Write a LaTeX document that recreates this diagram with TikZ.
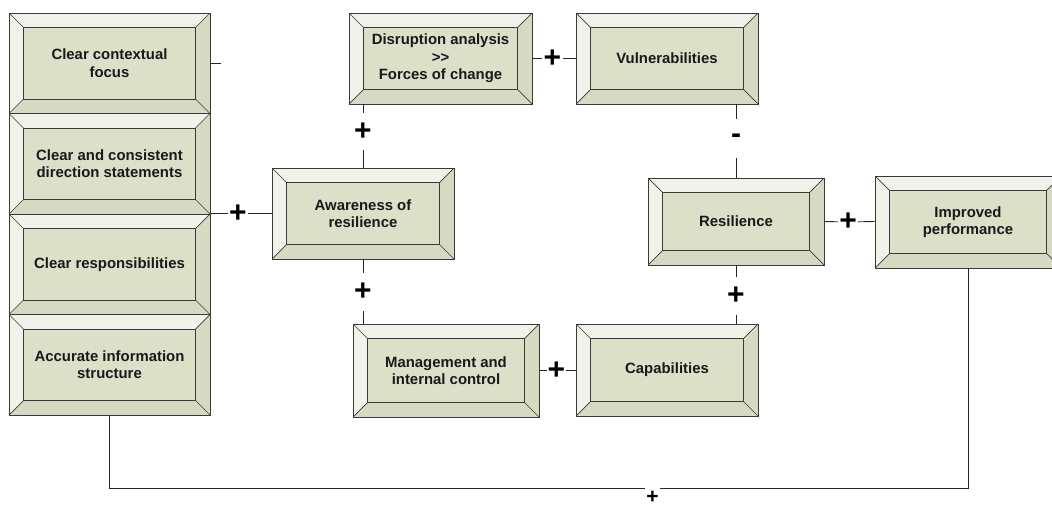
\documentclass[tikz,border=0pt]{standalone}
\usepackage{fontspec}
\setmainfont{Liberation Sans}
\usetikzlibrary{calc}

\definecolor{bevlight}{HTML}{F1F2EA}
\definecolor{bevdark}{HTML}{D6DAC3}
\definecolor{bevface}{HTML}{DCE0C9}
\definecolor{edgecol}{HTML}{3A3A3A}

\newcommand{\bevw}{14.5pt}

\tikzset{
  bevelbox/.style={draw=edgecol, line width=0.9pt, inner sep=0pt, align=center,
    font=\fontsize{14.9}{17.5}\selectfont\bfseries, text=black!90,
    path picture={
      \path (path picture bounding box.north west) coordinate (oNW)
            (path picture bounding box.north east) coordinate (oNE)
            (path picture bounding box.south east) coordinate (oSE)
            (path picture bounding box.south west) coordinate (oSW);
      \path ($(oNW)+(\bevw,-\bevw)$) coordinate (iNW)
            ($(oNE)+(-\bevw,-\bevw)$) coordinate (iNE)
            ($(oSE)+(-\bevw,\bevw)$) coordinate (iSE)
            ($(oSW)+(\bevw,\bevw)$) coordinate (iSW);
      % light top and left faces, darker bottom and right faces
      \fill[bevlight] (oNW) -- (oNE) -- (iNE) -- (iNW) -- cycle;
      \fill[bevlight] (oNW) -- (iNW) -- (iSW) -- (oSW) -- cycle;
      \fill[bevdark] (oSW) -- (iSW) -- (iSE) -- (oSE) -- cycle;
      \fill[bevdark] (oNE) -- (oSE) -- (iSE) -- (iNE) -- cycle;
      \draw[edgecol, line width=0.7pt] (oNW) -- (iNW) (oNE) -- (iNE)
            (oSE) -- (iSE) (oSW) -- (iSW);
      \draw[edgecol, line width=0.9pt, fill=bevface] (iNW) rectangle (iSE);
    }},
  conn/.style={draw=black!85, line width=0.9pt},
  sign/.style={font=\fontsize{30}{30}\selectfont\bfseries, inner sep=0pt},
  smallsign/.style={font=\fontsize{21}{21}\selectfont\bfseries, inner sep=0pt},
}

\begin{document}
\begin{tikzpicture}[x=1pt, y=-1pt]
\useasboundingbox (0,0) rectangle (1052,506);
\clip (0,0) rectangle (1052,506);

% left column of stacked boxes
\node[bevelbox, minimum width=201pt, minimum height=100.5pt] (ctx) at (109.5,63.25) {Clear contextual\\focus};
\node[bevelbox, minimum width=201pt, minimum height=100.5pt] (dir) at (109.5,163.75) {Clear and consistent\\direction statements};
\node[bevelbox, minimum width=201pt, minimum height=100.5pt] (resp) at (109.5,264.25) {Clear responsibilities};
\node[bevelbox, minimum width=201pt, minimum height=100.5pt] (info) at (109.5,364.75) {Accurate information\\structure};

% central and right boxes
\node[bevelbox, minimum width=182pt, minimum height=91pt] (aware) at (363,213.5) {Awareness of\\resilience};
\node[bevelbox, minimum width=183pt, minimum height=91pt] (disr) at (440.5,58.5) {Disruption analysis\\>{}>\\Forces of change};
\node[bevelbox, minimum width=182pt, minimum height=91pt] (vuln) at (667,58.5) {Vulnerabilities};
\node[bevelbox, minimum width=176pt, minimum height=87pt] (resil) at (736,221.5) {Resilience};
\node[bevelbox, minimum width=186pt, minimum height=92pt] (impr) at (968,222) {Improved\\performance};
\node[bevelbox, minimum width=186pt, minimum height=93pt] (mgmt) at (446,370.5) {Management and\\internal control};
\node[bevelbox, minimum width=182pt, minimum height=92pt] (capab) at (667,370) {Capabilities};

% polarity signs on the links
\node[sign, minimum height=37pt] (s1) at (363,131.5) {+};
\node[sign, minimum height=38pt] (s2) at (363,292) {+};
\node[sign, minimum height=39pt] (s3) at (736,138.5) {-};
\node[sign, minimum height=38pt] (s4) at (736,296) {+};
\node[sign, minimum width=21pt] (s5) at (552.5,58.5) {+};
\node[sign, minimum width=19pt] (s6) at (556.5,370.5) {+};
\node[sign, minimum width=20pt] (s7) at (848,222) {+};
\node[sign, minimum width=19pt] (s8) at (238,213.5) {+};
\node[smallsign] (s9) at (652.5,497) {+};

% links
\coordinate (ctxstub) at ($(ctx.east)+(11pt,0)$);
\draw[conn] (ctx.east) -- (ctxstub);
\draw[conn] (aware.west -| dir.east) -- (s8) -- (aware.west);
\draw[conn] (aware.north |- disr.south) -- (s1) -- (aware.north);
\draw[conn] (aware.south) -- (s2) -- (aware.south |- mgmt.north);
\draw[conn] (disr.east) -- (s5) -- (vuln.west);
\draw[conn] (resil.north |- vuln.south) -- (s3) -- (resil.north);
\draw[conn] (resil.south) -- (s4) -- (resil.south |- capab.north);
\draw[conn] (mgmt.east) -- (s6) -- (capab.west |- mgmt.east);
\draw[conn] (resil.east) -- (s7) -- (impr.west |- resil.east);

% feedback loop along the bottom
\coordinate (gapR) at (660,488);
\coordinate (gapL) at (645,488);
\draw[conn] (impr.south) |- (gapR);
\draw[conn] (gapL) -| (info.south);
\end{tikzpicture}
\end{document}
